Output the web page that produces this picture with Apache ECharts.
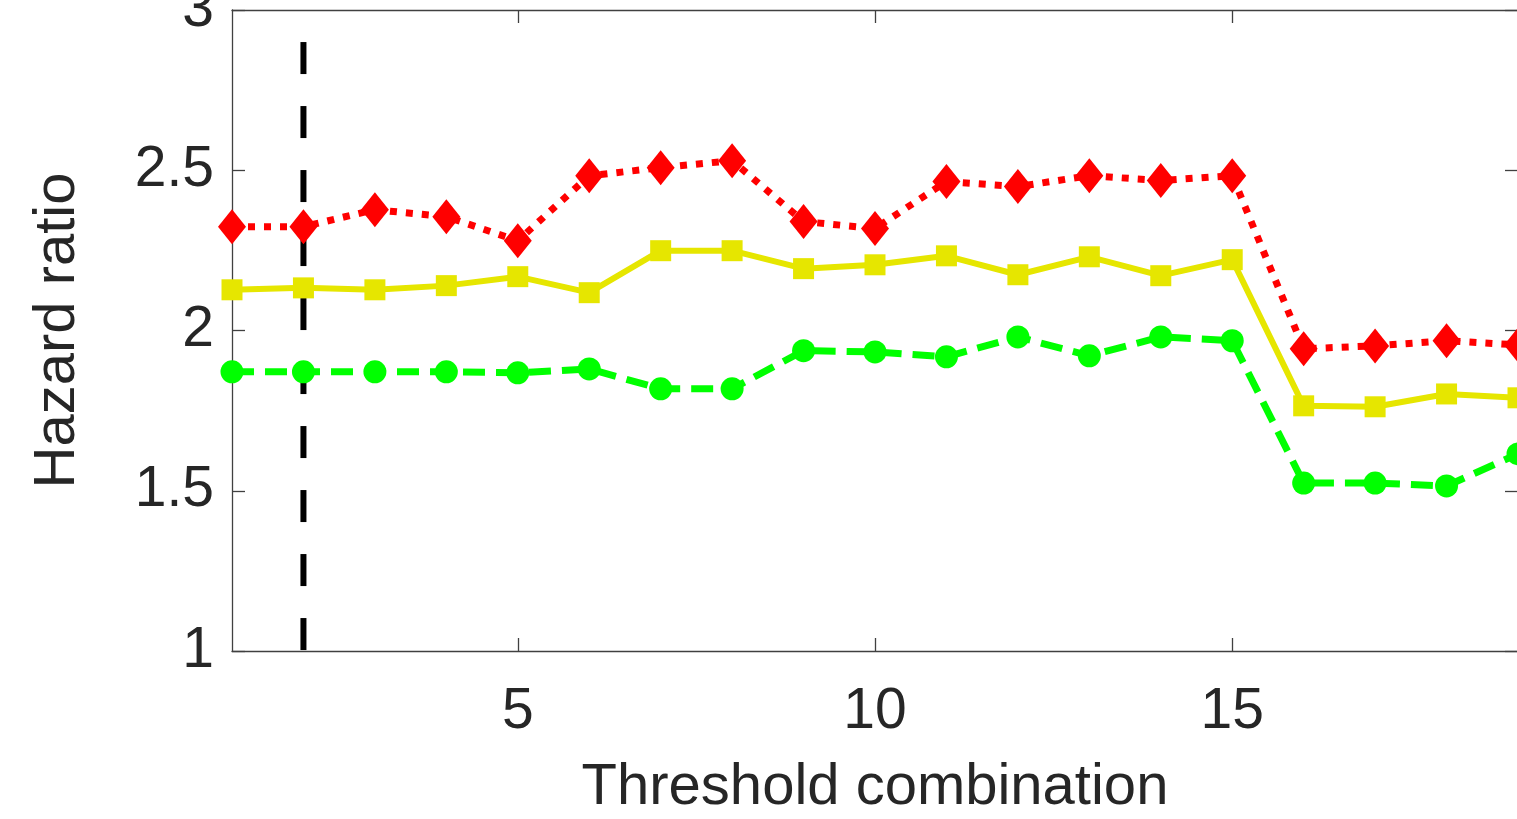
<!DOCTYPE html>
<html><head><meta charset="utf-8">
<script src="https://cdn.jsdelivr.net/npm/echarts@6/dist/echarts.min.js"></script>
<style>html,body{margin:0;padding:0;background:#fff}#c{width:1517px;height:819px}</style>
</head><body><div id="c"></div>
<script>
// ---- data ----
const combos = [1,2,3,4,5,6,7,8,9,10,11,12,13,14,15,16,17,18,19];
const hrRed    = [2.324,2.324,2.377,2.355,2.280,2.483,2.508,2.530,2.340,2.318,2.465,2.449,2.483,2.468,2.483,1.943,1.952,1.968,1.955];
const hrYellow = [2.127,2.133,2.127,2.140,2.168,2.118,2.249,2.249,2.193,2.205,2.233,2.174,2.230,2.171,2.221,1.765,1.762,1.802,1.790];
const hrGreen  = [1.871,1.871,1.871,1.871,1.868,1.880,1.818,1.818,1.937,1.933,1.918,1.980,1.921,1.980,1.968,1.524,1.524,1.515,1.615];
const xTickValues = [5,10,15];
const yTickValues = [1,1.5,2,2.5,3];
const markerCombo = 2;
const markerSpan = [2.9, 1];
const xLabel = 'Threshold combination';
const yLabel = 'Hazard ratio';

const FONT = 'Liberation Sans, Arial, Helvetica, sans-serif';
const TXT = '#262626';
const AX = '#404040';

const pairs = arr => combos.map((c,i)=>[c, arr[i]]);

const chart = echarts.init(document.getElementById('c'), null, {renderer:'canvas'});
const baseX = {
  type:'value', min:1, max:19,
  splitLine:{show:false},
  axisLine:{show:true, onZero:false, lineStyle:{color:AX, width:1.3}},
  axisTick:{show:true, inside:true, length:13, customValues:xTickValues, lineStyle:{color:AX, width:1.3}},
};
const baseY = {
  type:'value', min:1, max:3, interval:0.5,
  splitLine:{show:false},
  axisLine:{show:true, onZero:false, lineStyle:{color:AX, width:1.3}},
  axisTick:{show:true, inside:true, length:13, customValues:yTickValues, lineStyle:{color:AX, width:1.3}},
};
chart.setOption({
  animation:false,
  backgroundColor:'#fff',
  grid:{left:232, top:10, bottom:168, right:-1, outerBoundsMode:'none', containLabel:false},
  xAxis:[
    Object.assign({}, baseX, {
      position:'bottom',
      axisLabel:{show:true, customValues:xTickValues, margin:33, color:TXT, fontSize:57, fontFamily:FONT},
      name:xLabel, nameLocation:'middle', nameGap:108,
      nameTextStyle:{color:TXT, fontSize:58, fontFamily:FONT}
    }),
    Object.assign({}, baseX, {position:'top', axisLabel:{show:false}})
  ],
  yAxis:[
    Object.assign({}, baseY, {
      position:'left',
      axisLabel:{show:true, customValues:yTickValues, margin:18, color:TXT, fontSize:57, fontFamily:FONT,
        formatter: v => String(v)},
      name:yLabel, nameLocation:'middle', nameGap:145, nameRotate:90,
      nameTextStyle:{color:TXT, fontSize:58, fontFamily:FONT}
    }),
    Object.assign({}, baseY, {position:'right', axisLabel:{show:false}})
  ],
  series:[
    {
      type:'line', xAxisIndex:0, yAxisIndex:0, z:1,
      data:markerSpan.map(v=>[markerCombo, v]),
      symbol:'none', silent:true,
      lineStyle:{color:'#000', width:6, type:[32,32], cap:'butt'}
    },
    {
      type:'line', xAxisIndex:0, yAxisIndex:0, z:3,
      data:pairs(hrRed),
      symbol:'diamond', symbolSize:[28,35], showAllSymbol:true,
      itemStyle:{color:'#ff0000', borderWidth:0},
      lineStyle:{color:'#ff0000', width:7, type:[7,9], cap:'butt'}
    },
    {
      type:'line', xAxisIndex:0, yAxisIndex:0, z:3,
      data:pairs(hrYellow),
      symbol:'rect', symbolSize:21, showAllSymbol:true,
      itemStyle:{color:'#e6e600', borderWidth:0},
      lineStyle:{color:'#e6e600', width:6, type:'solid'}
    },
    {
      type:'line', xAxisIndex:0, yAxisIndex:0, z:3,
      data:pairs(hrGreen),
      symbol:'circle', symbolSize:23, showAllSymbol:true,
      itemStyle:{color:'#00ff00', borderWidth:0},
      lineStyle:{color:'#00ff00', width:7, type:[22,11], cap:'butt'}
    }
  ]
});
</script>
</body></html>
